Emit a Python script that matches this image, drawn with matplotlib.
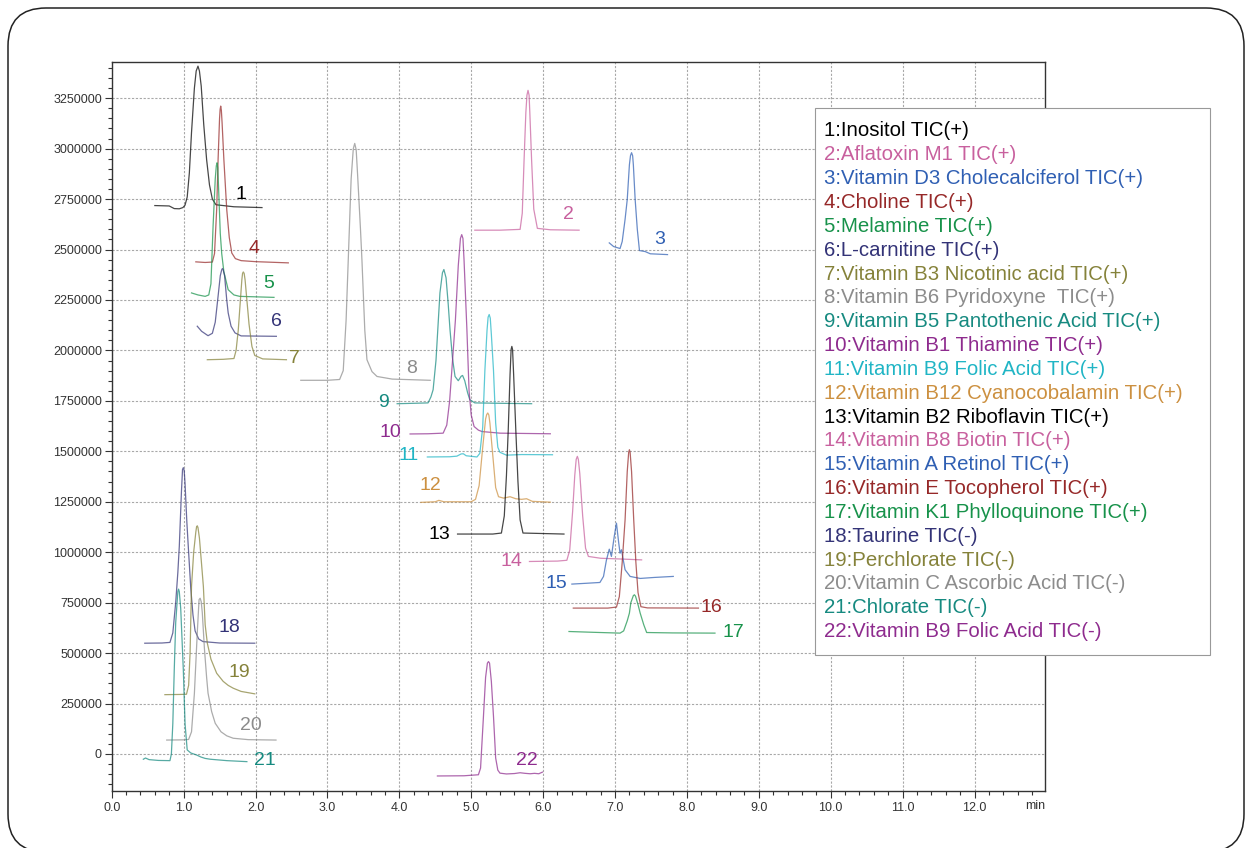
import numpy as np
import matplotlib.pyplot as plt
from matplotlib.patches import Rectangle, FancyBboxPatch
from matplotlib.ticker import MultipleLocator, FormatStrFormatter

plt.rcParams['font.family'] = ['Liberation Sans', 'DejaVu Sans']

W, H = 1246, 848

compounds = [
    '1:Inositol TIC(+)',
    '2:Aflatoxin M1 TIC(+)',
    '3:Vitamin D3 Cholecalciferol TIC(+)',
    '4:Choline TIC(+)',
    '5:Melamine TIC(+)',
    '6:L-carnitine TIC(+)',
    '7:Vitamin B3 Nicotinic acid TIC(+)',
    '8:Vitamin B6 Pyridoxyne  TIC(+)',
    '9:Vitamin B5 Pantothenic Acid TIC(+)',
    '10:Vitamin B1 Thiamine TIC(+)',
    '11:Vitamin B9 Folic Acid TIC(+)',
    '12:Vitamin B12 Cyanocobalamin TIC(+)',
    '13:Vitamin B2 Riboflavin TIC(+)',
    '14:Vitamin B8 Biotin TIC(+)',
    '15:Vitamin A Retinol TIC(+)',
    '16:Vitamin E Tocopherol TIC(+)',
    '17:Vitamin K1 Phylloquinone TIC(+)',
    '18:Taurine TIC(-)',
    '19:Perchlorate TIC(-)',
    '20:Vitamin C Ascorbic Acid TIC(-)',
    '21:Chlorate TIC(-)',
    '22:Vitamin B9 Folic Acid TIC(-)',
]

colors = ['#000000', '#c8609e', '#2f5fb3', '#962828', '#17924a', '#333377',
          '#85823a', '#8c8c8c', '#168a80', '#8e2b8e', '#20b5c5', '#cc9040',
          '#000000', '#c8609e', '#2f5fb3', '#962828', '#17924a', '#333377',
          '#85823a', '#8c8c8c', '#168a80', '#8e2b8e']

# retention time (min) and signal (x1000)
times = [
    [0.60, 0.80, 0.87, 0.94, 0.99, 1.02, 1.05, 1.08, 1.11, 1.15, 1.175, 1.20, 1.22, 1.245, 1.28, 1.32, 1.36, 1.40,
     1.45, 1.70, 2.09],
    [5.05, 5.40, 5.68, 5.71, 5.735, 5.76, 5.775, 5.79, 5.805, 5.815, 5.84, 5.87, 5.92, 6.10, 6.50],
    [6.92, 6.98, 7.07, 7.10, 7.14, 7.17, 7.20, 7.215, 7.23, 7.245, 7.255, 7.28, 7.31, 7.34, 7.42, 7.49, 7.73],
    [1.17, 1.30, 1.40, 1.43, 1.46, 1.48, 1.50, 1.508, 1.516, 1.525, 1.535, 1.56, 1.60, 1.635, 1.67, 1.72, 1.80,
     2.00, 2.456],
    [1.11, 1.20, 1.30, 1.35, 1.38, 1.41, 1.44, 1.455, 1.465, 1.475, 1.485, 1.51, 1.53, 1.56, 1.62, 1.70, 1.78, 2.257],
    [1.19, 1.25, 1.34, 1.40, 1.44, 1.48, 1.51, 1.53, 1.54, 1.55, 1.57, 1.60, 1.62, 1.66, 1.715, 1.80, 2.29],
    [1.33, 1.55, 1.70, 1.73, 1.76, 1.78, 1.81, 1.82, 1.83, 1.842, 1.855, 1.88, 1.91, 1.95, 1.99, 2.10, 2.43],
    [2.63, 3.00, 3.17, 3.22, 3.26, 3.29, 3.33, 3.36, 3.38, 3.40, 3.42, 3.46, 3.48, 3.52, 3.55, 3.62, 3.69, 3.90,
     4.43],
    [3.97, 4.20, 4.40, 4.44, 4.47, 4.51, 4.565, 4.60, 4.62, 4.65, 4.68, 4.705, 4.74, 4.775, 4.82, 4.86, 4.88, 4.91,
     4.95, 4.98, 5.05, 5.40, 5.84],
    [4.15, 4.40, 4.61, 4.66, 4.70, 4.74, 4.78, 4.82, 4.85, 4.868, 4.885, 4.90, 4.94, 4.97, 5.00, 5.04, 5.10, 5.15,
     5.40, 6.10],
    [4.39, 4.70, 4.80, 4.86, 4.89, 4.93, 5.08, 5.12, 5.16, 5.19, 5.22, 5.235, 5.25, 5.265, 5.28, 5.31, 5.34, 5.37,
     5.40, 5.49, 5.70, 6.13],
    [4.30, 4.50, 4.55, 4.62, 5.00, 5.06, 5.11, 5.16, 5.20, 5.215, 5.23, 5.245, 5.26, 5.30, 5.34, 5.38, 5.45, 5.54,
     5.62, 5.70, 5.77, 5.85, 6.10],
    [4.81, 5.30, 5.42, 5.46, 5.49, 5.515, 5.54, 5.555, 5.565, 5.575, 5.59, 5.62, 5.65, 5.68, 5.72, 6.29],
    [5.81, 6.20, 6.33, 6.37, 6.41, 6.44, 6.46, 6.476, 6.49, 6.51, 6.55, 6.59, 6.63, 6.80, 7.10, 7.37],
    [6.40, 6.60, 6.79, 6.84, 6.88, 6.92, 6.95, 6.99, 7.02, 7.05, 7.07, 7.09, 7.11, 7.14, 7.21, 7.35, 7.55, 7.81],
    [6.42, 6.90, 7.02, 7.06, 7.10, 7.14, 7.17, 7.19, 7.20, 7.21, 7.23, 7.26, 7.29, 7.32, 7.36, 7.45, 8.16],
    [6.36, 6.70, 7.07, 7.12, 7.17, 7.20, 7.22, 7.255, 7.27, 7.285, 7.32, 7.35, 7.40, 7.44, 7.80, 8.39],
    [0.46, 0.70, 0.81, 0.85, 0.89, 0.92, 0.94, 0.97, 0.985, 0.996, 1.008, 1.02, 1.045, 1.065, 1.10, 1.13, 1.16,
     1.21, 1.27, 1.50, 1.99],
    [0.74, 0.95, 1.04, 1.07, 1.09, 1.11, 1.14, 1.17, 1.18, 1.19, 1.20, 1.22, 1.25, 1.275, 1.30, 1.33, 1.38, 1.46,
     1.55, 1.62, 1.69, 1.80, 1.99],
    [0.765, 1.00, 1.07, 1.11, 1.15, 1.19, 1.215, 1.23, 1.245, 1.26, 1.29, 1.32, 1.34, 1.39, 1.44, 1.52, 1.60, 1.69,
     1.90, 2.285],
    [0.44, 0.47, 0.52, 0.65, 0.81, 0.83, 0.85, 0.87, 0.89, 0.92, 0.93, 0.94, 0.96, 0.996, 1.02, 1.05, 1.10, 1.18,
     1.24, 1.30, 1.37, 1.60, 1.88],
    [4.53, 4.90, 5.10, 5.13, 5.17, 5.20, 5.225, 5.24, 5.255, 5.28, 5.31, 5.34, 5.37, 5.40, 5.49, 5.60, 5.68, 5.75,
     5.82, 5.88, 5.94, 5.99],
]

signals = [
    [2718, 2716, 2703, 2702, 2708, 2720, 2760, 2880, 3080, 3300, 3385, 3409, 3385, 3310, 3120, 2946, 2820, 2750,
     2722, 2712, 2708],
    [2596, 2596, 2600, 2680, 2942, 3180, 3265, 3289, 3265, 3180, 2942, 2700, 2605, 2598, 2596],
    [2533, 2515, 2505, 2540, 2650, 2748, 2920, 2965, 2980, 2965, 2920, 2748, 2600, 2495, 2490, 2479, 2475],
    [2439, 2436, 2438, 2480, 2700, 2950, 3150, 3195, 3211, 3190, 3130, 2946, 2698, 2560, 2483, 2455, 2445, 2440,
     2434],
    [2285, 2275, 2268, 2275, 2330, 2616, 2850, 2915, 2930, 2905, 2820, 2580, 2480, 2390, 2301, 2275, 2268, 2263],
    [2120, 2095, 2073, 2085, 2140, 2270, 2370, 2400, 2406, 2400, 2370, 2250, 2186, 2120, 2087, 2072, 2070],
    [1954, 1956, 1960, 2000, 2100, 2200, 2350, 2382, 2389, 2382, 2350, 2250, 2130, 2020, 1975, 1958, 1954],
    [1852, 1852, 1856, 1900, 2150, 2450, 2850, 3000, 3026, 2995, 2870, 2600, 2450, 2100, 1954, 1895, 1871, 1858,
     1852],
    [1736, 1738, 1740, 1770, 1805, 1950, 2285, 2385, 2401, 2360, 2230, 2103, 1960, 1871, 1850, 1872, 1876, 1850,
     1790, 1756, 1740, 1738, 1736],
    [1586, 1587, 1590, 1630, 1750, 1950, 2150, 2420, 2555, 2574, 2555, 2450, 2103, 1800, 1680, 1623, 1605, 1598,
     1590, 1587],
    [1472, 1473, 1476, 1487, 1488, 1478, 1472, 1490, 1620, 1900, 2100, 2165, 2178, 2160, 2080, 1900, 1640, 1520,
     1495, 1481, 1484, 1483],
    [1247, 1250, 1257, 1250, 1250, 1262, 1330, 1520, 1660, 1682, 1690, 1680, 1640, 1480, 1320, 1275, 1268, 1275,
     1265, 1262, 1265, 1252, 1248],
    [1090, 1090, 1095, 1180, 1380, 1607, 1880, 2005, 2020, 2005, 1880, 1607, 1350, 1160, 1095, 1090],
    [954, 956, 960, 1010, 1200, 1380, 1460, 1475, 1460, 1390, 1180, 1020, 979, 970, 966, 962],
    [842, 846, 850, 880, 960, 1015, 979, 1080, 1144, 1050, 995, 1012, 970, 913, 880, 870, 875, 880],
    [723, 723, 728, 780, 950, 1161, 1400, 1495, 1508, 1495, 1400, 1161, 950, 800, 730, 724, 723],
    [607, 603, 599, 610, 660, 698, 750, 785, 789, 782, 740, 698, 640, 602, 600, 599],
    [549, 550, 553, 600, 750, 900, 1028, 1300, 1410, 1419, 1405, 1340, 1150, 1028, 820, 690, 610, 570, 557, 550,
     549],
    [294, 295, 296, 340, 500, 830, 1000, 1100, 1125, 1131, 1122, 1070, 940, 830, 640, 549, 470, 400, 360, 340, 326,
     310, 298],
    [69, 70, 72, 110, 300, 600, 765, 772, 755, 700, 520, 380, 301, 210, 152, 110, 90, 78, 71, 69],
    [-26, -20, -28, -32, -33, 0, 150, 417, 650, 805, 817, 805, 720, 417, 150, 20, 5, -5, -15, -22, -26, -33, -38],
    [-109, -108, -103, -70, 185, 380, 450, 458, 450, 360, 185, -20, -80, -95, -99, -97, -93, -96, -98, -96, -98,
     -90],
]

# where each peak number is written (min, x1000)
label_pos = [(1.80, 2773), (6.35, 2673), (7.62, 2550), (1.98, 2503), (2.19, 2331), (2.285, 2144),
             (2.535, 1958), (4.17, 1910), (3.78, 1743), (3.87, 1591), (4.125, 1478), (4.43, 1329),
             (4.56, 1090), (5.56, 954), (6.18, 847), (8.34, 726), (8.64, 604), (1.64, 627),
             (1.78, 403), (1.93, 139), (2.13, -33), (5.77, -33)]

fig = plt.figure(figsize=(W / 100, H / 100), dpi=100)
fig.patch.set_facecolor('white')

ax = fig.add_axes([111.7 / W, 1 - 790.7 / H, (1045 - 111.7) / W, (790.7 - 61.7) / H])

for i in range(len(compounds)):
    t = np.array(times[i])
    v = np.array(signals[i]) * 1000
    ax.plot(t, v, color=colors[i], lw=0.9, alpha=0.72, solid_joinstyle='round')
    lx, ly = label_pos[i]
    ax.text(lx, ly * 1000, str(i + 1), color=colors[i], fontsize=14, ha='center', va='center')

ax.set_xlim(0, 12.98)
ax.set_ylim(-182000, 3431000)
ax.set_xticks(np.arange(0, 12.5, 1.0))
ax.set_yticks(np.arange(0, 3250001, 250000))
ax.xaxis.set_major_formatter(FormatStrFormatter('%.1f'))
ax.yaxis.set_major_formatter(FormatStrFormatter('%d'))
ax.xaxis.set_minor_locator(MultipleLocator(0.2))
ax.yaxis.set_minor_locator(MultipleLocator(50000))

ax.tick_params(which='both', direction='out', color='#333333', width=0.8,
               labelsize=9, labelcolor='#333333')
ax.tick_params(which='major', length=5)
ax.tick_params(which='minor', length=3)
ax.tick_params(axis='x', pad=3)
ax.tick_params(axis='y', pad=2)

ax.grid(True, which='major', color='#a8a8a8', linestyle=(0, (2, 1.5)), linewidth=0.8)
ax.set_axisbelow(True)
for s in ax.spines.values():
    s.set_color('#333333')
    s.set_linewidth(1.0)

fig.text(1035 / W, 1 - 806 / H, 'min', fontsize=9, color='#333333', ha='center', va='center')

# legend box
box = Rectangle((815 / W, 1 - 655 / H), (1210 - 815) / W, (655 - 108.3) / H,
                transform=fig.transFigure, facecolor='white', edgecolor='#999999', lw=0.8, zorder=5)
fig.add_artist(box)
for i, name in enumerate(compounds):
    fig.text(824 / W, 1 - (131 + i * 23.84) / H, name, color=colors[i], fontsize=14.7,
             ha='left', va='center', zorder=6)

# rounded frame around the figure
frame = FancyBboxPatch((0.08, -0.04), 12.36, 8.44, boxstyle='round,pad=0,rounding_size=0.38',
                       transform=fig.dpi_scale_trans, fill=False, edgecolor='#222222', lw=1.1, zorder=10)
fig.add_artist(frame)

fig.savefig('out.png', dpi=100, facecolor='white')
